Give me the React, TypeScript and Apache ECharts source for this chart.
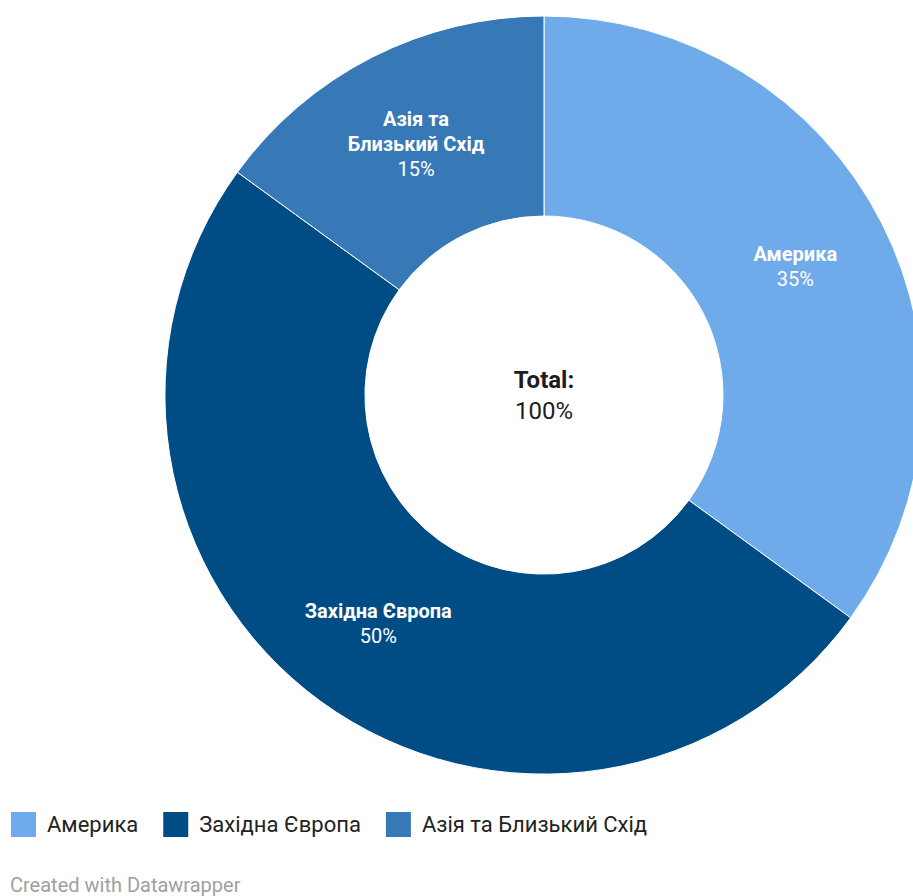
import React, { useEffect, useRef } from "react";
import * as echarts from "echarts";

const categories = ["Америка", "Західна Європа", "Азія та Близький Схід"];
const labelNames = ["Америка", "Західна Європа", "Азія та\nБлизький Схід"];
const values = [35, 50, 15];
const colors = ["#6fabeb", "#004d86", "#3778b7"];
const totalLabel = "Total:";
const totalValue = "100%";
const footer = "Created with Datawrapper";

export default function App() {
  const ref = useRef<HTMLDivElement>(null);
  useEffect(() => {
    if (!ref.current) return;
    const chart = echarts.init(ref.current, null, { renderer: "svg" });
    const font = "Roboto, 'Noto Sans', sans-serif";
    chart.setOption({
      animation: false,
      backgroundColor: "#ffffff",
      color: colors,
      legend: {
        left: 9,
        top: 810,
        padding: 0,
        orient: "horizontal",
        icon: "rect",
        itemWidth: 27,
        itemHeight: 27,
        itemGap: 23,
        selectedMode: false,
        data: categories,
        textStyle: {
          fontFamily: font,
          fontSize: 22,
          color: "#222222",
          padding: [0, 0, 0, 5],
        },
      },
      graphic: [
        {
          type: "text",
          left: 10,
          top: 875,
          style: { text: footer, fontFamily: font, fontSize: 20, fill: "#a0a0a0" },
        },
        {
          type: "text",
          x: 544,
          y: 380,
          style: {
            text: totalLabel,
            fontFamily: font,
            fontSize: 24,
            fontWeight: "bold",
            fill: "#1d1d1d",
            align: "center",
            verticalAlign: "middle",
          },
        },
        {
          type: "text",
          x: 544,
          y: 411,
          style: {
            text: totalValue,
            fontFamily: font,
            fontSize: 24,
            fill: "#1d1d1d",
            align: "center",
            verticalAlign: "middle",
          },
        },
      ],
      series: [
        {
          type: "pie",
          center: [544, 395],
          radius: [179, 379],
          startAngle: 90,
          clockwise: true,
          avoidLabelOverlap: false,
          itemStyle: { borderColor: "#ffffff", borderWidth: 1 },
          label: {
            show: true,
            position: "inside",
            formatter: (p: any) =>
              labelNames[p.dataIndex]
                .split("\n")
                .map((s) => `{n|${s}}`)
                .join("\n") + `\n{p|${p.value}%}`,
            rich: {
              n: { fontFamily: font, fontSize: 20, fontWeight: "bold", color: "#ffffff", lineHeight: 25, align: "center" },
              p: { fontFamily: font, fontSize: 20, color: "#ffffff", lineHeight: 25, align: "center" },
            },
          },
          labelLine: { show: false },
          emphasis: { disabled: true },
          data: categories.map((c, i) => ({ name: c, value: values[i] })),
        },
      ],
    });
    return () => chart.dispose();
  }, []);
  return (
    <div
      ref={ref}
      style={{ position: "fixed", left: 0, top: 0, width: 913, height: 896 }}
    />
  );
}
